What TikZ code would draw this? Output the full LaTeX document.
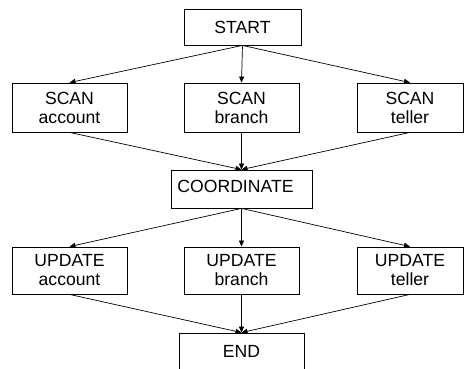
\documentclass[tikz,border=0pt]{standalone}
\usepackage{fontspec}
\setmainfont{Liberation Sans}
\usetikzlibrary{arrows.meta}
\begin{document}
\begin{tikzpicture}[x=1pt,y=-1pt,
  box/.style={draw=black,line width=0.8pt,rectangle,inner sep=0pt,align=center,
    font=\fontsize{17.6}{19}\selectfont},
  arr/.style={line width=0.7pt,-{Triangle[length=6pt,width=5pt]}}]
\useasboundingbox (0,0) rectangle (464,369);
\clip (0,0) rectangle (464,369);
\node[box,minimum width=117pt,minimum height=36pt] (start) at (242.5,27) {START};
\node[box,minimum width=115pt,minimum height=49pt] (sa) at (69.5,107.5) {SCAN\\account};
\node[box,minimum width=115pt,minimum height=49pt] (sb) at (241.5,107.5) {SCAN\\branch};
\node[box,minimum width=106pt,minimum height=49pt] (st) at (410,107.5) {SCAN\\teller};
\node[box,minimum width=141pt,minimum height=38pt] (coord) at (241.5,189) {COORDINATE\strut\hspace*{12pt}};
\node[box,minimum width=115pt,minimum height=47pt] (ua) at (69.5,270.5) {UPDATE\\account};
\node[box,minimum width=115pt,minimum height=47pt] (ub) at (241.5,270.5) {UPDATE\\branch};
\node[box,minimum width=106pt,minimum height=47pt] (ut) at (410,270.5) {UPDATE\\teller};
\node[draw=black,line width=0.8pt,rectangle,inner sep=0pt,minimum width=125pt,minimum height=60pt] (endbox) at (241.5,363) {};
\node[font=\fontsize{17.6}{19}\selectfont] (endtxt) at (241.5,351) {END};
\draw[arr] (start.south) -- (sa.north);
\draw[arr] (start.south) -- (sb.north);
\draw[arr] (start.south) -- (st.north);
\draw[arr] (sa.south) -- (coord.north);
\draw[arr] (sb.south) -- (coord.north);
\draw[arr] (st.south) -- (coord.north);
\draw[arr] (coord.south) -- (ua.north);
\draw[arr] (coord.south) -- (ub.north);
\draw[arr] (coord.south) -- (ut.north);
\draw[arr] (ua.south) -- (endbox.north);
\draw[arr] (ub.south) -- (endbox.north);
\draw[arr] (ut.south) -- (endbox.north);
\end{tikzpicture}
\end{document}
